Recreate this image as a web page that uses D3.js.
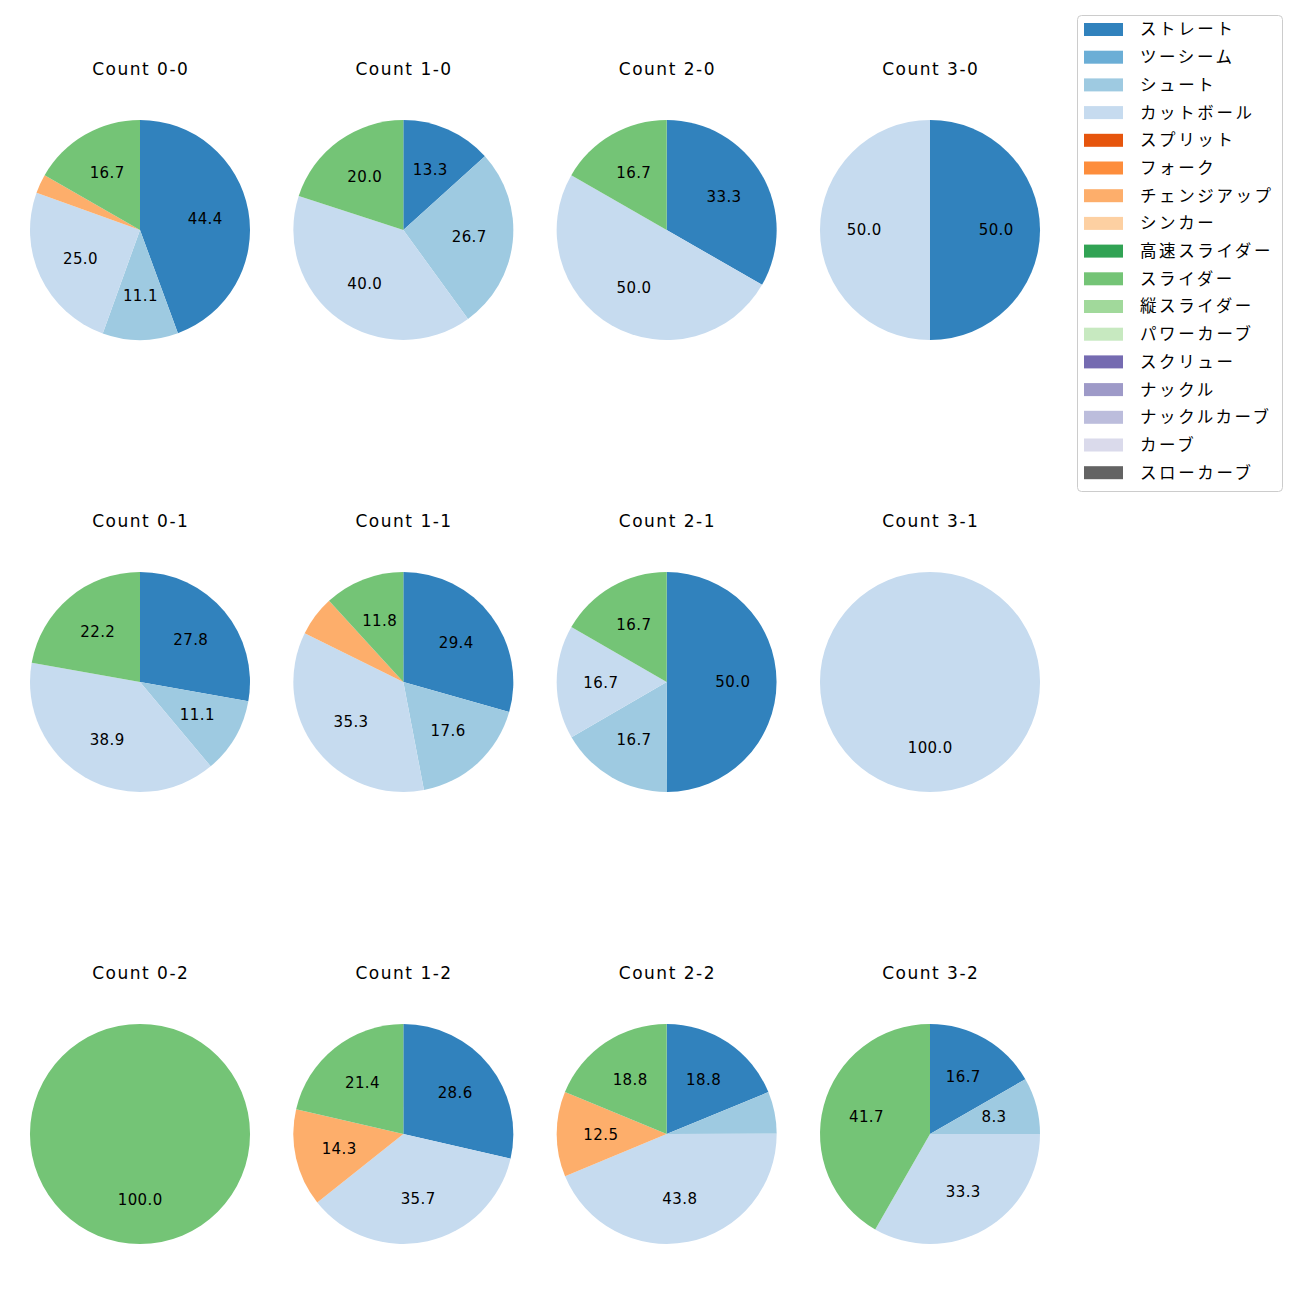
<!DOCTYPE html>
<html><head><meta charset="utf-8">
<script src="https://cdn.jsdelivr.net/npm/d3@7"></script>
<style>body{margin:0;background:#fff}svg{display:block}</style>
</head><body>
<svg id="c" width="1300" height="1300"></svg>
<script>
const pitchTypes = ["ストレート","ツーシーム","シュート","カットボール","スプリット","フォーク","チェンジアップ","シンカー","高速スライダー","スライダー","縦スライダー","パワーカーブ","スクリュー","ナックル","ナックルカーブ","カーブ","スローカーブ"];
const pitchColors = ["#3182bd","#6baed6","#9ecae1","#c6dbef","#e6550d","#fd8d3c","#fdae6b","#fdd0a2","#31a354","#74c476","#a1d99b","#c7e9c0","#756bb1","#9e9ac8","#bcbddc","#dadaeb","#636363"];
const countLabels = ["0-0","1-0","2-0","3-0","0-1","1-1","2-1","3-1","0-2","1-2","2-2","3-2"];
// percentages per count, keyed by pitch type
const count00 = {"ストレート":44.4,"シュート":11.1,"カットボール":25.0,"チェンジアップ":2.8,"スライダー":16.7};
const count10 = {"ストレート":13.3,"シュート":26.7,"カットボール":40.0,"スライダー":20.0};
const count20 = {"ストレート":33.3,"カットボール":50.0,"スライダー":16.7};
const count30 = {"ストレート":50.0,"カットボール":50.0};
const count01 = {"ストレート":27.8,"シュート":11.1,"カットボール":38.9,"スライダー":22.2};
const count11 = {"ストレート":29.4,"シュート":17.6,"カットボール":35.3,"チェンジアップ":5.9,"スライダー":11.8};
const count21 = {"ストレート":50.0,"シュート":16.7,"カットボール":16.7,"スライダー":16.7};
const count31 = {"カットボール":100.0};
const count02 = {"スライダー":100.0};
const count12 = {"ストレート":28.6,"カットボール":35.7,"チェンジアップ":14.3,"スライダー":21.4};
const count22 = {"ストレート":18.8,"シュート":6.2,"カットボール":43.8,"チェンジアップ":12.5,"スライダー":18.8};
const count32 = {"ストレート":16.7,"シュート":8.3,"カットボール":33.3,"スライダー":41.7};
const countData = [count00,count10,count20,count30,count01,count11,count21,count31,count02,count12,count22,count32];

const svg = d3.select("#c");
const latinFont = "'DejaVu Sans',sans-serif";
const cjkFont = "'Noto Sans CJK JP','Noto Sans',sans-serif";
const color = d3.scaleOrdinal().domain(pitchTypes).range(pitchColors);
const colX = d3.scalePoint().domain([0,1,2,3]).range([140,930]);
const rowY = d3.scalePoint().domain([0,1,2]).range([230,1134]);
const R = 110;
const pie = d3.pie().sort(null).value(d => d.v).startAngle(0).endAngle(2*Math.PI);
const arc = d3.arc().innerRadius(0).outerRadius(R);
const labelArc = d3.arc().innerRadius(R*0.6).outerRadius(R*0.6);

countData.forEach((cd, i) => {
  const cx = colX(i % 4), cy = rowY(Math.floor(i / 4));
  const g = svg.append("g").attr("transform", `translate(${cx},${cy})`);
  const items = pitchTypes.filter(p => cd[p] !== undefined).map(p => ({p, v: cd[p]}));
  const total = d3.sum(items, d => d.v);
  const arcs = pie(items);
  g.selectAll("path").data(arcs).join("path")
    .attr("d", arc).attr("fill", d => color(d.data.p));
  g.selectAll("text.l").data(arcs.filter(d => d.data.v / total * 100 >= 7)).join("text")
    .attr("class","l")
    .attr("transform", d => `translate(${labelArc.centroid(d)})`)
    .attr("text-anchor","middle").attr("dy","0.36em").attr("dx", 0.2)
    .attr("font-family", latinFont).attr("font-size", 15).attr("letter-spacing", 0.4)
    .attr("fill","#000")
    .text(d => (d.data.v / total * 100).toFixed(1));
  svg.append("text").attr("x", cx + 0.75).attr("y", cy - 161)
    .attr("text-anchor","middle").attr("dy","0.36em")
    .attr("font-family", latinFont).attr("font-size", 17).attr("letter-spacing", 1.5)
    .attr("fill","#000")
    .text("Count " + countLabels[i]);
});

// legend
const lg = svg.append("g");
lg.append("rect").attr("x",1077.5).attr("y",15.5).attr("width",205).attr("height",476)
  .attr("rx",4).attr("fill","#fff").attr("stroke","#cccccc").attr("stroke-width",1);
const ly = d3.scaleLinear().domain([0,16]).range([29.5,472.7]);
pitchTypes.forEach((p, i) => {
  lg.append("rect").attr("x",1084).attr("y",ly(i)-6.5).attr("width",39).attr("height",13).attr("fill",color(p));
  lg.append("text").attr("x",1140).attr("y",ly(i)).attr("dy","0.36em")
    .attr("font-family", cjkFont).attr("font-size",16.5).attr("letter-spacing",2.6)
    .attr("fill","#000").text(p);
});
</script>
</body></html>
